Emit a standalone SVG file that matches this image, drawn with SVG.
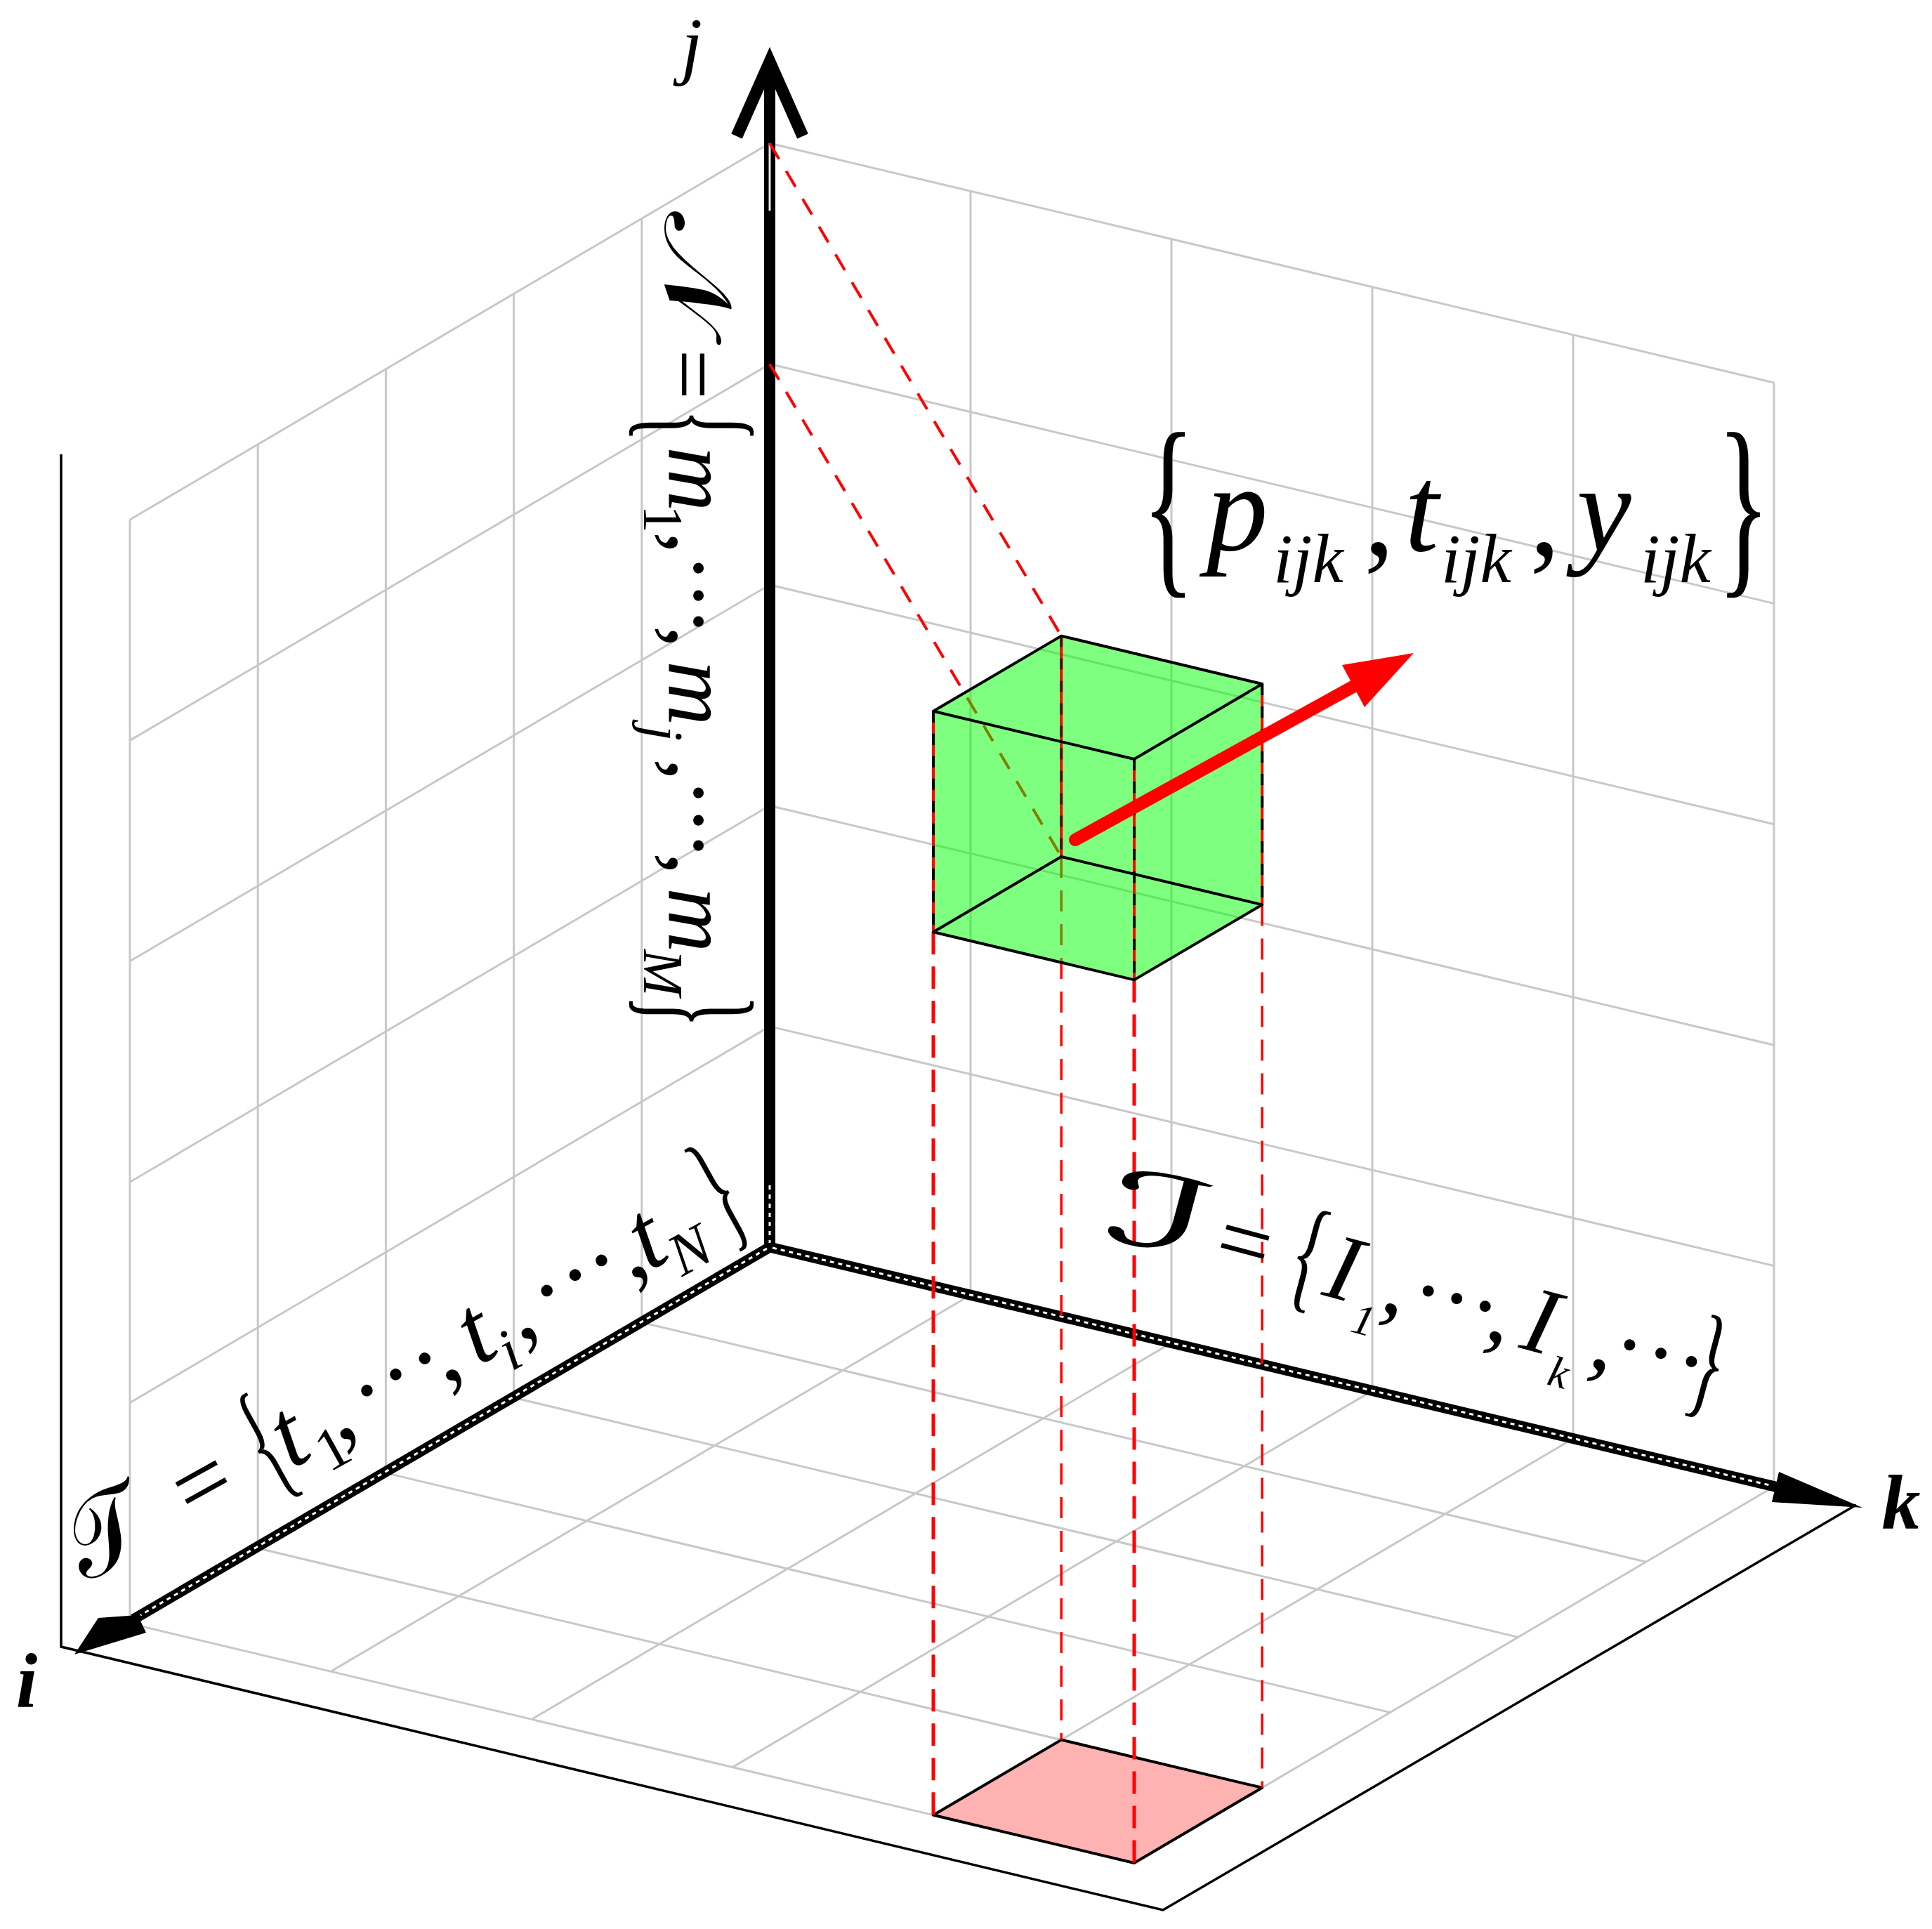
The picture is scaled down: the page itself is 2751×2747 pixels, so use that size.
<svg xmlns="http://www.w3.org/2000/svg" width="2751" height="2747" viewBox="0 0 2751 2747">
<defs>
<style>
.grid path {stroke:#c8c8c8; stroke-width:3; fill:none}
.frame {stroke:#000; stroke-width:3.5; fill:none}
.projT {stroke:#ff0000; stroke-width:4; fill:none; stroke-dasharray:26 20}
.projThick {stroke:#ff0000; stroke-width:5; fill:none; stroke-dasharray:32 17}
.projThin {stroke:#ff0000; stroke-width:3.5; fill:none; stroke-dasharray:30 18}
.edge {stroke:#000; stroke-width:4; fill:none; stroke-linejoin:round}
.vedgeR {stroke:#ff0000; stroke-width:4; fill:none}
.vedgeK {stroke:#000; stroke-width:4; fill:none; stroke-dasharray:16 16}
.it {font-family:"Liberation Serif","Times New Roman",serif; font-style:italic; fill:#000}
.bi {font-family:"Liberation Serif","Times New Roman",serif; font-style:italic; font-weight:bold; fill:#000}
.rm {font-family:"Liberation Serif","Times New Roman",serif; font-style:normal; fill:#000}
.sc {font-family:"DejaVu Serif","DejaVu Sans","Noto Sans",serif; font-style:normal; fill:#000}
</style>
</defs>
<rect width="2751" height="2747" fill="#ffffff"/>

<g id="grid" class="grid">
<path d="M1096,1776V204 M1382,1844.2V272.2 M1668,1912.4V340.4 M1954,1980.6V408.6 M2240,2048.8V476.8 M2526,2117V545
M1096,1776L2526,2117 M1096,1461.6L2526,1802.6 M1096,1147.2L2526,1488.2 M1096,832.8L2526,1173.8 M1096,518.4L2526,859.4 M1096,204L2526,545
M913.8,1883.2V311.2 M731.6,1990.4V418.4 M549.4,2097.6V525.6 M367.2,2204.8V632.8 M185,2312V740
M1096,1461.6L185,1997.6 M1096,1147.2L185,1683.2 M1096,832.8L185,1368.8 M1096,518.4L185,1054.4 M1096,204L185,740 M1096,1776L185,2312
M913.8,1883.2L2343.8,2224.2 M731.6,1990.4L2161.6,2331.4 M549.4,2097.6L1979.4,2438.6 M367.2,2204.8L1797.2,2545.8 M185,2312L1615,2653
M1382,1844.2L471,2380.2 M1668,1912.4L757,2448.4 M1954,1980.6L1043,2516.6 M2240,2048.8L1329,2584.8 M2526,2117L1615,2653"/>
</g>

<g id="frame">
<polyline class="frame" points="87,647 87,2345 1656,2720 2643,2143"/>
</g>

<g id="footprint">
<polygon points="1329,2584.8 1511.2,2477.6 1797.2,2545.8 1615,2653" fill="#ff0000" fill-opacity="0.3" stroke="#000" stroke-width="4" stroke-linejoin="round"/>
</g>

<g id="axes">
<g id="axis-j">
<line x1="1096" y1="1776" x2="1096" y2="92" stroke="#000" stroke-width="16"/>
<polyline points="1049,194 1096,88 1143,194" fill="none" stroke="#000" stroke-width="17" stroke-linejoin="miter" stroke-miterlimit="6"/>
<line x1="1096" y1="204" x2="1096" y2="300" stroke="#e6e6e6" stroke-width="3"/>
<line x1="1096" y1="1688" x2="1096" y2="1770" stroke="#ffffff" stroke-width="3" stroke-dasharray="6 7"/>
</g>
<g id="axis-k">
<line x1="1096" y1="1776" x2="2530" y2="2117.6" stroke="#000" stroke-width="15"/>
<line x1="1100" y1="1777" x2="2520" y2="2115" stroke="#ffffff" stroke-width="3" stroke-dasharray="6 6"/>
<polygon points="2652,2147 2523,2139 2533,2096" fill="#000"/>
</g>
<g id="axis-i">
<line x1="1096" y1="1776" x2="190" y2="2306" stroke="#000" stroke-width="15"/>
<line x1="1092" y1="1778" x2="200" y2="2300" stroke="#ffffff" stroke-width="3" stroke-dasharray="6 6"/>
<polygon points="106,2356 140,2304 196,2300 208,2325" fill="#000"/>
</g>
</g>

<g id="connectors">
<line class="projT" x1="1096" y1="204" x2="1511.2" y2="905.6"/>
<line class="projT" x1="1096" y1="518.4" x2="1511.2" y2="1220"/>
<line class="projThick" x1="1329" y1="1327.2" x2="1329" y2="2584.8"/>
<line class="projThin" x1="1511.2" y1="1220" x2="1511.2" y2="2477.6"/>
<line class="projThick" x1="1615" y1="1395.4" x2="1615" y2="2653"/>
<line class="projThin" x1="1797.2" y1="1288.4" x2="1797.2" y2="2545.8"/>
</g>

<g id="cube">
<polygon points="1329,1012.8 1511.2,905.6 1797.2,974 1797.2,1288.4 1615,1395.4 1329,1327.2" fill="#00ff00" fill-opacity="0.5" stroke="none"/>
<line class="vedgeR" x1="1511.2" y1="905.6" x2="1511.2" y2="1220" stroke-width="3"/>
<line class="vedgeK" x1="1511.2" y1="905.6" x2="1511.2" y2="1220" stroke-width="2" stroke-opacity="0.6"/>
<line class="vedgeR" x1="1329" y1="1012.8" x2="1329" y2="1327.2"/>
<line class="vedgeK" x1="1329" y1="1012.8" x2="1329" y2="1327.2"/>
<line class="vedgeR" x1="1615" y1="1081" x2="1615" y2="1395.4"/>
<line class="vedgeK" x1="1615" y1="1081" x2="1615" y2="1395.4"/>
<line class="vedgeR" x1="1797.2" y1="974" x2="1797.2" y2="1288.4"/>
<line class="vedgeK" x1="1797.2" y1="974" x2="1797.2" y2="1288.4"/>
<polygon class="edge" points="1329,1012.8 1511.2,905.6 1797.2,974 1615,1081"/>
<polygon class="edge" points="1329,1327.2 1511.2,1220 1797.2,1288.4 1615,1395.4"/>
</g>

<g id="vector">
<line x1="1531" y1="1196" x2="1930" y2="976" stroke="#ff0000" stroke-width="18" stroke-linecap="round"/>
<polygon points="2013,930 1911,947 1943,1007" fill="#ff0000"/>
</g>

<g id="label-j"><text class="it" x="985" y="100" font-size="108" text-anchor="middle">j</text></g>
<g id="label-i"><text class="bi" x="38" y="2431" font-size="110" text-anchor="middle">i</text></g>
<g id="label-k"><text class="bi" x="2707" y="2177" font-size="110" text-anchor="middle">k</text></g>

<g id="label-pty">
<text class="rm" transform="translate(1626,813) scale(0.55,1)" font-size="285">{</text>
<text class="it" x="1718" y="784" font-size="175">p</text>
<text class="it" x="1813" y="829" font-size="100">ijk</text>
<text class="rm" x="1942" y="790" font-size="175">,</text>
<text class="it" x="2000" y="784" font-size="175">t</text>
<text class="it" x="2052" y="829" font-size="100">ijk</text>
<text class="rm" x="2178" y="790" font-size="175">,</text>
<text class="it" x="2245" y="784" font-size="175">y</text>
<text class="it" x="2336" y="829" font-size="100">ijk</text>
<text class="rm" transform="translate(2445,813) scale(0.55,1)" font-size="285">}</text>
</g>

<g id="label-N" transform="translate(952,0) rotate(90)">
<text class="sc" x="301" y="5" font-size="135" textLength="167" lengthAdjust="spacingAndGlyphs">𝒩</text>
<text class="rm" x="497" y="7" font-size="128">=</text>
<text class="rm" transform="translate(583,27) scale(0.45,1)" font-size="214">{</text>
<text class="it" x="636" y="0" font-size="128">m</text>
<text class="rm" x="719" y="35" font-size="80">1</text>
<text class="rm" x="757" y="0" font-size="128">,</text>
<text class="rm" x="809 848 885" y="0" font-size="128" text-anchor="middle">···</text>
<text class="rm" x="891" y="0" font-size="128">,</text>
<text class="it" x="941" y="0" font-size="128">m</text>
<text class="it" x="1033" y="35" font-size="80">j</text>
<text class="rm" x="1080" y="0" font-size="128">,</text>
<text class="rm" x="1129 1168 1204" y="0" font-size="128" text-anchor="middle">···</text>
<text class="rm" x="1214" y="0" font-size="128">,</text>
<text class="it" x="1264" y="0" font-size="128">m</text>
<text class="it" x="1352" y="35" font-size="80">M</text>
<text class="rm" transform="translate(1417,27) scale(0.45,1)" font-size="214">}</text>
</g>

<g id="label-T" transform="translate(425,2087) rotate(-29)">
<text class="sc" x="-345" y="0" font-size="150" textLength="110" lengthAdjust="spacingAndGlyphs">𝒯</text>
<text class="rm" x="-172" y="0" font-size="140">=</text>
<text class="rm" transform="translate(-49,12) scale(0.45,1)" font-size="200">{</text>
<text class="it" x="-12" y="0" font-size="140">t</text>
<text class="rm" x="33" y="30" font-size="85">1</text>
<text class="rm" x="65" y="0" font-size="140">,</text>
<text class="rm" x="137 184 231" y="0" font-size="140" text-anchor="middle">···</text>
<text class="rm" x="237" y="0" font-size="140">,</text>
<text class="it" x="292" y="0" font-size="140">t</text>
<text class="it" x="330" y="30" font-size="85">i</text>
<text class="rm" x="360" y="0" font-size="140">,</text>
<text class="rm" x="430 476 519" y="0" font-size="140" text-anchor="middle">···</text>
<text class="rm" x="540" y="0" font-size="140">,</text>
<text class="it" x="570" y="0" font-size="140">t</text>
<text class="it" x="608" y="30" font-size="85">N</text>
<text class="rm" transform="translate(690,12) scale(0.45,1)" font-size="200">}</text>
</g>

<g id="label-I" transform="translate(1875.3,1842.2) rotate(15)">
<text class="sc" x="-320" y="0" font-size="150" textLength="150" lengthAdjust="spacingAndGlyphs">ℐ</text>
<text class="rm" x="-156" y="0" font-size="135">=</text>
<text class="rm" transform="translate(-49,8) scale(0.55,1)" font-size="180">{</text>
<text class="it" x="5" y="0" font-size="135">I</text>
<text class="it" x="58" y="40" font-size="62">1</text>
<text class="rm" x="91" y="0" font-size="135">,</text>
<text class="rm" x="152 194 236" y="0" font-size="135" text-anchor="middle">···</text>
<text class="rm" x="245" y="0" font-size="135">,</text>
<text class="it" x="296" y="0" font-size="135">I</text>
<text class="it" x="348" y="40" font-size="62">k</text>
<text class="rm" x="398" y="0" font-size="135">,</text>
<text class="rm" x="449 495 540" y="0" font-size="135" text-anchor="middle">···</text>
<text class="rm" transform="translate(542,8) scale(0.55,1)" font-size="180">}</text>
</g>
</svg>
